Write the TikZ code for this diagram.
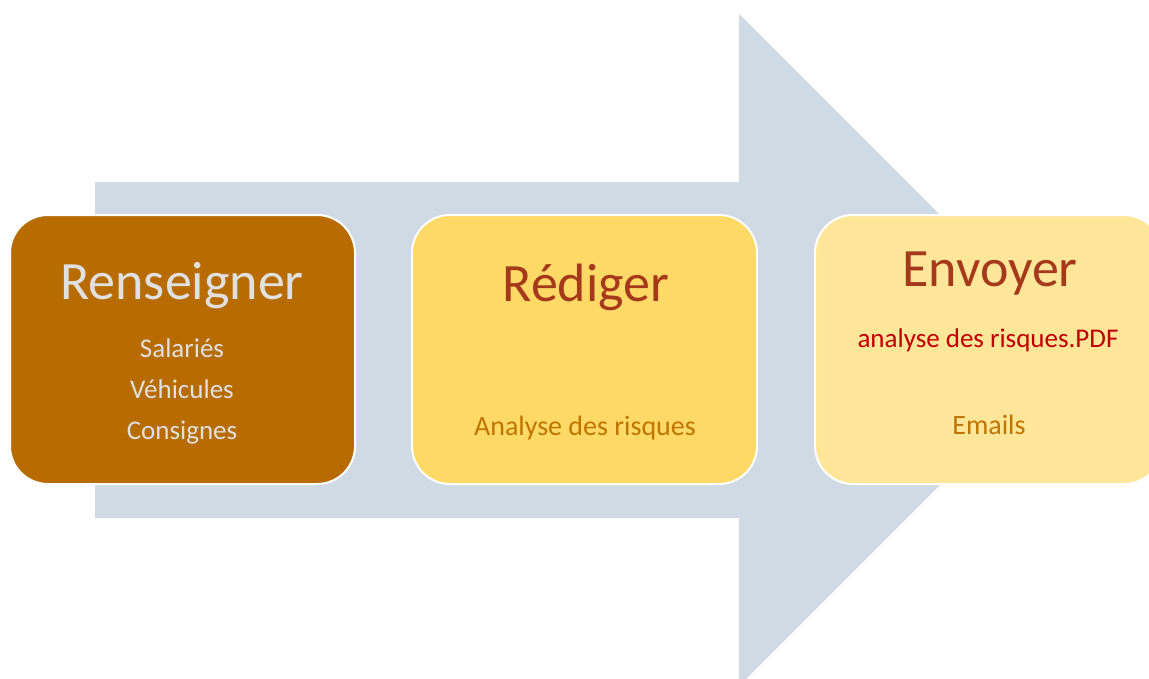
\documentclass[tikz,border=0pt]{standalone}
\usepackage{fontspec}
\setmainfont{Carlito}
\definecolor{arrowc}{RGB}{208,218,229}
\definecolor{boxA}{RGB}{184,108,0}
\definecolor{boxB}{RGB}{255,217,102}
\definecolor{boxC}{RGB}{255,230,153}
\definecolor{titleA}{RGB}{224,224,224}
\definecolor{titleB}{RGB}{165,57,28}
\definecolor{subB}{RGB}{191,117,0}
\definecolor{redC}{RGB}{192,0,0}
\tikzset{
  stepcard/.style={draw=white, line width=2pt, rounded corners=38pt},
  bigtitle/.style={anchor=base, inner sep=0pt, font=\fontsize{54}{60}\selectfont},
  subtext/.style={anchor=base, inner sep=0pt, font=\fontsize{27}{30}\selectfont},
  subbig/.style={anchor=base, inner sep=0pt, font=\fontsize{28}{30}\selectfont},
}
\begin{document}
\begin{tikzpicture}[x=1pt,y=-1pt]
\useasboundingbox (0,0) rectangle (1149,678);
\clip (0,0) rectangle (1149,678);
% big arrow
\fill[arrowc] (95,182) -- (739,182) -- (739,14) -- (1075,350) -- (739,686) -- (739,518) -- (95,518) -- cycle;
% cards
\draw[stepcard, fill=boxA] (10,215) rectangle (355,484);
\draw[stepcard, fill=boxB] (412,215) rectangle (757,484);
\draw[stepcard, fill=boxC] (815,215) rectangle (1162,484);
% texts
\node[bigtitle, text=titleA] (t1) at (182,299) {Renseigner};
\node[subtext, text=titleA] (s1a) at (182,357) {Salariés};
\node[subtext, text=titleA] (s1b) at (182,398) {Véhicules};
\node[subtext, text=titleA] (s1c) at (182,439) {Consignes};
\node[bigtitle, text=titleB] (t2) at (586,301) {Rédiger};
\node[subbig, text=subB] (s2) at (585,435) {Analyse des risques};
\node[bigtitle, text=titleB] (t3) at (990,286) {Envoyer};
\node[subtext, text=redC] (s3a) at (988,347) {analyse des risques.PDF};
\node[subbig, text=subB] (s3b) at (989,434) {Emails};
\end{tikzpicture}
\end{document}
